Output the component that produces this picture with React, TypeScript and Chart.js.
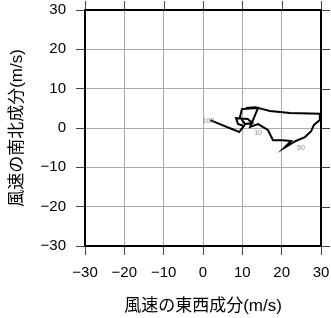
import React, { useEffect, useRef } from "react";
import { Chart, registerables } from "chart.js";

Chart.register(...registerables);

// Hodograph points (east-west u, north-south v), m/s
const uValues = [1.8, 9.2, 10.4, 8.9, 8.4, 11.4, 12.5, 10.7, 9.4, 9.9, 14.0, 12.0, 14.0, 16.5, 17.8, 20.3, 22.4, 20.6, 23.6, 25.9, 27.5, 28.2, 29.7, 29.7, 22.1, 17.0, 13.2, 10.9];
const vValues = [2.0, -1.0, 0.5, 1.0, 2.5, 2.3, 1.3, 1.0, 2.8, 4.8, 5.1, 0.3, 1.0, -0.5, -3.1, -3.1, -3.3, -5.1, -3.3, -2.3, -0.8, 0.8, 2.0, 3.6, 3.8, 4.3, 5.3, 5.1];

// Level markers
const markerText = ["100", "10", "50"];
const markerU = [1.4, 14.0, 24.9];
const markerV = [1.8, -1.3, -5.1];

const axisMin = -30;
const axisMax = 30;
const axisStep = 10;
const tickValues = [-30, -20, -10, 0, 10, 20, 30];

const xTitle = "風速の東西成分(m/s)";
const yTitle = "風速の南北成分(m/s)";

const FONT = "'Liberation Sans', Arial, 'Noto Sans CJK JP', sans-serif";
const TITLE_FONT = "'Liberation Sans', 'Noto Sans CJK JP', sans-serif";
const TICK_LEN = 9;

const framePlugin = {
  id: "frame",
  afterDatasetsDraw(chart: any) {
    const { ctx, scales, chartArea } = chart;
    const { left, right, top, bottom } = chartArea;
    ctx.save();
    ctx.fillStyle = "#888";
    ctx.font = `7px ${FONT}`;
    ctx.textAlign = "center";
    ctx.textBaseline = "middle";
    markerText.forEach((t, i) => {
      ctx.fillText(t, scales.x.getPixelForValue(markerU[i]), scales.y.getPixelForValue(markerV[i]));
    });
    ctx.strokeStyle = "#444";
    ctx.lineWidth = 1;
    ctx.beginPath();
    tickValues.forEach((v) => {
      const px = Math.round(scales.x.getPixelForValue(v)) + 0.5;
      ctx.moveTo(px, top);
      ctx.lineTo(px, top - TICK_LEN);
      const py = Math.round(scales.y.getPixelForValue(v)) + 0.5;
      ctx.moveTo(right, py);
      ctx.lineTo(right + TICK_LEN, py);
    });
    ctx.stroke();
    ctx.strokeStyle = "#000";
    ctx.lineWidth = 2;
    ctx.strokeRect(left, top, right - left, bottom - top);
    ctx.restore();
  },
};

export default function App() {
  const ref = useRef<HTMLCanvasElement>(null);
  useEffect(() => {
    if (!ref.current) return;
    const data = uValues.map((u, i) => ({ x: u, y: vValues[i] }));
    const grid = {
      color: "#aaaaaa",
      lineWidth: 1,
      tickColor: "#444444",
      tickLength: TICK_LEN,
    };
    const border = { display: false };
    const fmt = (v: any) => (Number(v) < 0 ? "\u2212" + Math.abs(Number(v)) : String(v));
    const chart = new Chart(ref.current, {
      type: "scatter",
      data: {
        datasets: [
          {
            data,
            showLine: true,
            borderColor: "#000",
            borderWidth: 2,
            pointRadius: 0,
            tension: 0,
            fill: false,
          },
        ],
      },
      plugins: [framePlugin],
      options: {
        animation: false,
        responsive: false,
        events: [],
        layout: { padding: { top: 10, right: 10, left: 0, bottom: 0 } },
        plugins: { legend: { display: false }, tooltip: { enabled: false } },
        scales: {
          x: {
            type: "linear",
            min: axisMin,
            max: axisMax,
            position: "bottom",
            grid,
            border,
            ticks: {
              stepSize: axisStep,
              color: "#000",
              padding: 9,
              font: { family: FONT, size: 15 },
              maxRotation: 0,
              callback: fmt,
            },
            title: {
              display: true,
              text: xTitle,
              color: "#000",
              font: { family: TITLE_FONT, size: 17 },
              padding: { top: 0, bottom: 1 },
            },
            afterFit: (s: any) => {
              s.height = 72;
              s.paddingLeft = 0;
              s.paddingRight = 0;
            },
          },
          y: {
            type: "linear",
            min: axisMin,
            max: axisMax,
            position: "left",
            grid,
            border,
            ticks: {
              stepSize: axisStep,
              color: "#000",
              padding: 10,
              font: { family: FONT, size: 15 },
              callback: fmt,
            },
            title: {
              display: true,
              text: yTitle,
              color: "#000",
              font: { family: TITLE_FONT, size: 17 },
              padding: { top: 7, bottom: 0 },
            },
            afterFit: (s: any) => {
              s.width = 85;
              s.paddingTop = 0;
              s.paddingBottom = 0;
            },
          },
        },
      } as any,
    });
    return () => chart.destroy();
  }, []);
  return (
    <div style={{ position: "fixed", left: 0, top: 0, width: 331, height: 318, background: "#fff" }}>
      <canvas ref={ref} width={331} height={318} style={{ display: "block" }} />
    </div>
  );
}
